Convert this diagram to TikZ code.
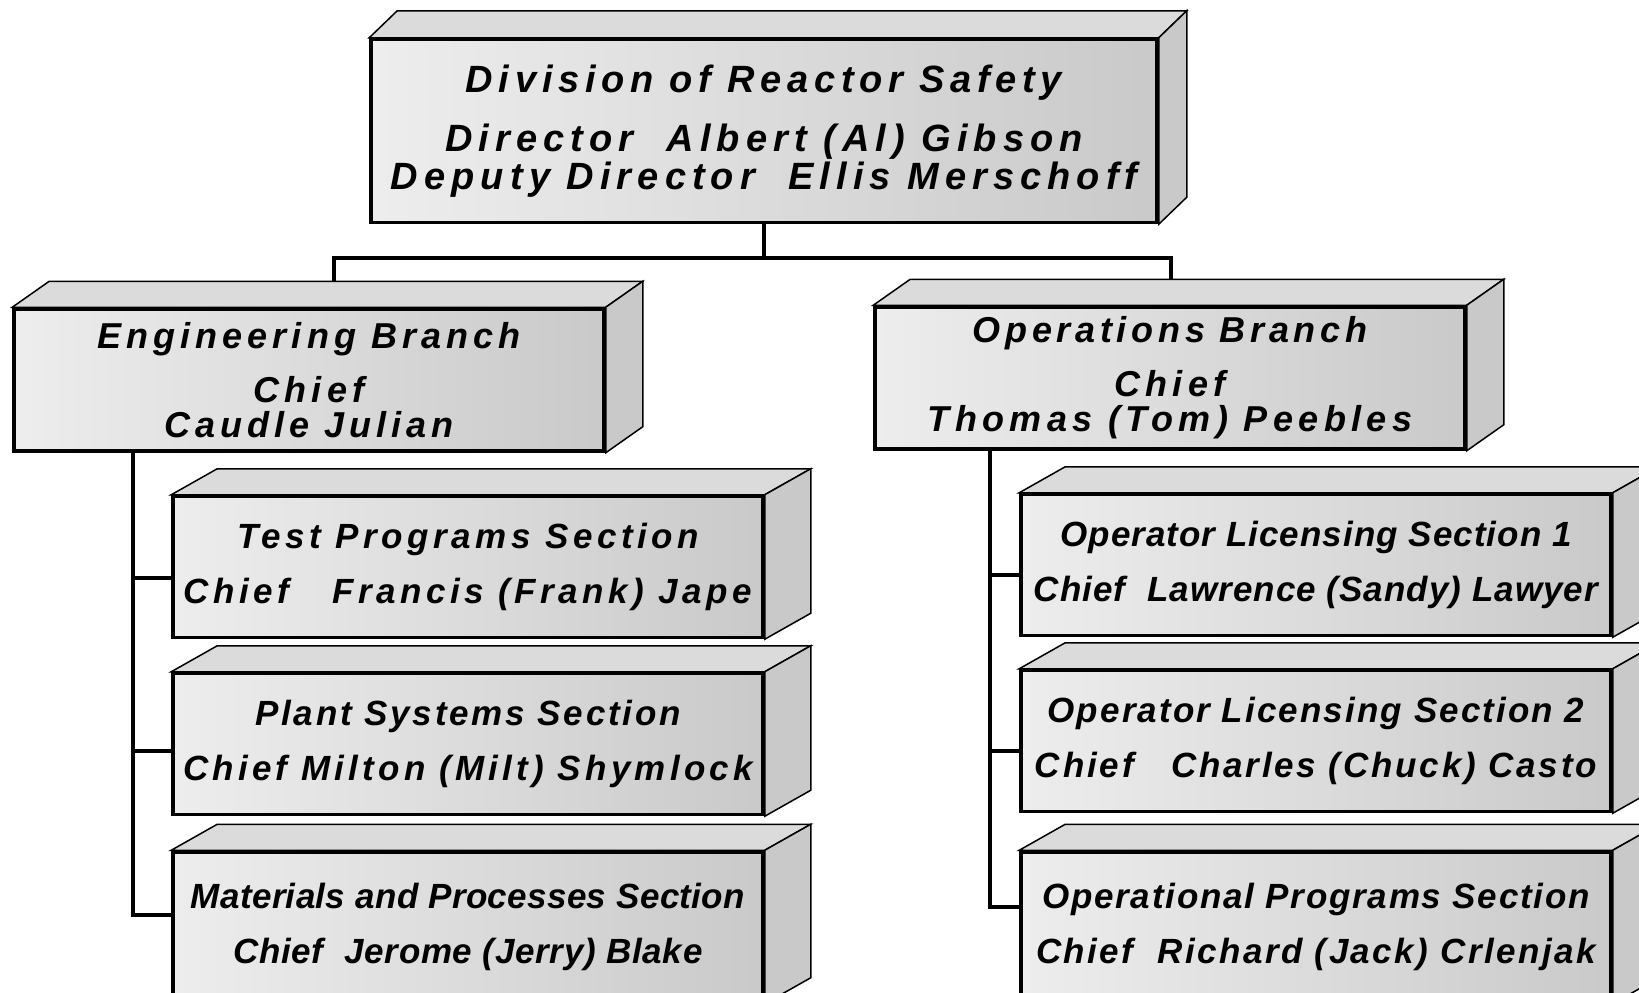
\documentclass[tikz,border=0pt]{standalone}
\usepackage{fontspec}
\setmainfont{Liberation Sans}
\usetikzlibrary{positioning}

% letter spacing for one line of a box
\newcommand{\lsp}[1]{\addfontfeature{LetterSpace=#1}}
% lines may sit closer than their glyphs allow
\newcommand{\tightlines}{\lineskiplimit=-40pt\relax}

% top and right faces of a box, offset (#2,#3) behind the front face #1
\newcommand{\boxdepth}[3]{%
    \draw[topface] (#1.north west) -- ([shift={(#2,#3)}]#1.north west)
        -- ([shift={(#2,#3)}]#1.north east) -- (#1.north east) -- cycle;
    \draw[sideface] (#1.north east) -- ([shift={(#2,#3)}]#1.north east)
        -- ([shift={(#2,#3)}]#1.south east) -- (#1.south east) -- cycle;
}

\begin{document}
\begin{tikzpicture} [x=1pt, y=-1pt,
    unit/.style={draw, line width=3.5pt, left color=gray!14, right color=gray!42,
                 inner sep=0pt, align=center},
    division/.style={unit, minimum width=786, minimum height=183,
                 font=\bfseries\itshape\fontsize{38}{33}\selectfont\tightlines},
    branch/.style={unit, minimum width=590, minimum height=142,
                 font=\bfseries\itshape\fontsize{36}{32}\selectfont\tightlines},
    section/.style={unit, minimum width=590, minimum height=141,
                 font=\bfseries\itshape\fontsize{35}{35}\selectfont},
    topface/.style={draw, line width=1.5pt, fill=gray!28},
    sideface/.style={draw, line width=1.5pt, fill=gray!42},
    link/.style={line width=4pt}
]
    \clip (0,0) rectangle (1639,993);
    \fill[white] (0,0) rectangle (1639,993);

    \node[division] (reactor safety) at (764,131)
        {\lsp{15}Division of Reactor Safety\\[26pt]
         \lsp{16}Director\ \ Albert (Al) Gibson\\[5pt]
         \lsp{16}Deputy Director\ \ Ellis Merschoff};
    \boxdepth{reactor safety}{28}{-27}

    \node[branch] (engineering) at (309,380)
        {\lsp{14}Engineering Branch\\[22pt] \lsp{15}Chief\\[3pt] \lsp{14}Caudle Julian};
    \boxdepth{engineering}{37}{-26}
    \node[branch] (operations) at (1170,378)
        {\lsp{13}Operations Branch\\[22pt] \lsp{15}Chief\\[3pt] \lsp{15}Thomas (Tom) Peebles};
    \boxdepth{operations}{37}{-26}

    \node[section] (test programs)  at (468,567)
        {\lsp{13}Test Programs Section\\[20pt] \lsp{13}Chief\ \ \ Francis (Frank) Jape};
    \node[section] (plant systems)  at (468,744)
        {\lsp{8}Plant Systems Section\\[20pt] \lsp{12}Chief Milton (Milt) Shymlock};
    \node[section, minimum height=150] (materials) at (468,927)
        {\lsp{1}Materials and Processes Section\\[20pt] \lsp{2}Chief\ \ Jerome (Jerry) Blake};
    \node[section] (licensing 1)    at (1316,565)
        {\lsp{3}Operator Licensing Section 1\\[20pt] \lsp{3}Chief\ \ Lawrence (Sandy) Lawyer};
    \node[section] (licensing 2)    at (1316,741)
        {\lsp{6}Operator Licensing Section 2\\[20pt] \lsp{8}Chief\ \ \ Charles (Chuck) Casto};
    \node[section, minimum height=150] (operational) at (1316,927)
        {\lsp{5}Operational Programs Section\\[20pt] \lsp{7}Chief\ \ Richard (Jack) Crlenjak};
    \foreach \s in {test programs, plant systems, materials,
                    licensing 1, licensing 2, operational}
        {\boxdepth{\s}{46}{-26}}

    \draw[link] (reactor safety.south) -- ++(0,34)
        -| ([shift={(25,-26)}]engineering.north);
    \draw[link] (reactor safety.south) -- ++(0,34)
        -| ([shift={(1,-26)}]operations.north);

    \draw[link] ([xshift=121pt]engineering.south west)
        |- ([shift={(0,11)}]test programs.west);
    \draw[link] ([xshift=121pt]engineering.south west)
        |- ([shift={(0,7)}]plant systems.west);
    \draw[link] ([xshift=121pt]engineering.south west)
        |- ([shift={(0,-12)}]materials.west);
    \draw[link] ([xshift=117pt]operations.south west)
        |- ([shift={(0,10)}]licensing 1.west);
    \draw[link] ([xshift=117pt]operations.south west)
        |- ([shift={(0,10)}]licensing 2.west);
    \draw[link] ([xshift=117pt]operations.south west)
        |- ([shift={(0,-20)}]operational.west);
\end{tikzpicture}
\end{document}
